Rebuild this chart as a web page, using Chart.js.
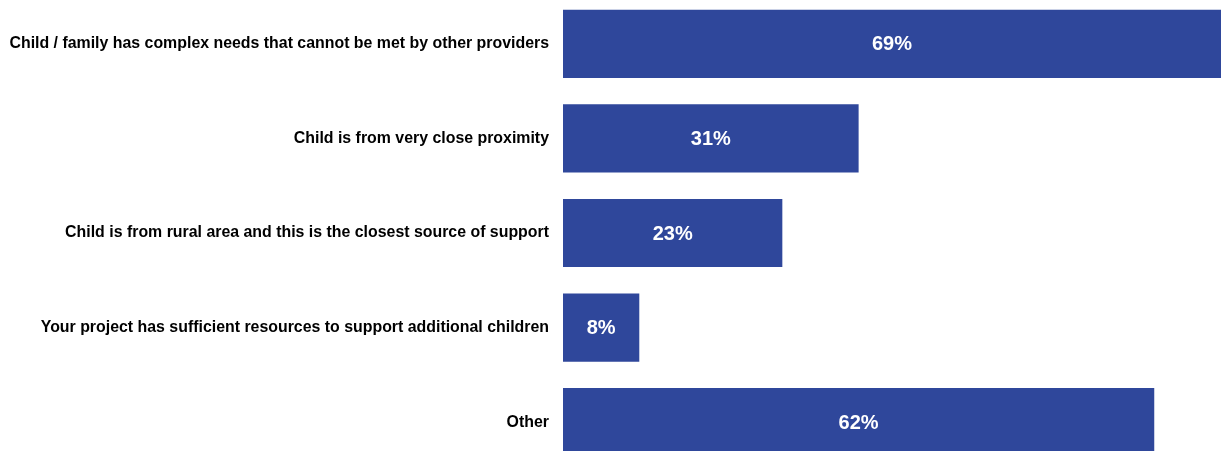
<!DOCTYPE html>
<html>
<head>
<meta charset="utf-8">
<script src="https://cdn.jsdelivr.net/npm/chart.js@4/dist/chart.umd.min.js"></script>
<style>
  html, body { margin: 0; padding: 0; background: #fff; overflow: hidden; }
  .wrap { position: absolute; left: 0; top: -27px; width: 1221px; height: 520px; }
</style>
</head>
<body>
<div class="wrap"><canvas id="myChart"></canvas></div>
<script>
const categories = [
  "Child / family has complex needs that cannot be met by other providers",
  "Child is from very close proximity",
  "Child is from rural area and this is the closest source of support",
  "Your project has sufficient resources to support additional children",
  "Other"
];
const values = [69, 31, 23, 8, 62];

// draws the % labels in the middle of each bar
const barLabels = {
  id: "barLabels",
  afterDatasetsDraw(chart) {
    const ctx = chart.ctx;
    const meta = chart.getDatasetMeta(0);
    ctx.save();
    ctx.fillStyle = "#ffffff";
    ctx.font = "bold 20px 'Liberation Sans', Arial, sans-serif";
    ctx.textAlign = "center";
    ctx.textBaseline = "middle";
    meta.data.forEach((bar, i) => {
      const x = (bar.base + bar.x) / 2;
      ctx.fillText(values[i] + "%", x, bar.y + 1);
    });
    ctx.restore();
  }
};

new Chart(document.getElementById("myChart"), {
  type: "bar",
  data: {
    labels: categories,
    datasets: [{
      data: values,
      backgroundColor: "#2f479b",
      borderWidth: 0,
      categoryPercentage: 1,
      barPercentage: 0.72
    }]
  },
  options: {
    indexAxis: "y",
    responsive: true,
    maintainAspectRatio: false,
    animation: false,
    layout: { padding: 0 },
    plugins: {
      legend: { display: false },
      tooltip: { enabled: false }
    },
    scales: {
      x: { display: false, min: 0, max: 69 },
      y: {
        afterFit(scale) { scale.width = 563; },
        grid: { display: false, drawTicks: false },
        border: { display: false },
        ticks: {
          padding: 14,
          color: "#000000",
          font: { family: "'Liberation Sans', Arial, sans-serif", size: 15.9, weight: "bold" }
        }
      }
    }
  },
  plugins: [barLabels]
});
</script>
</body>
</html>
